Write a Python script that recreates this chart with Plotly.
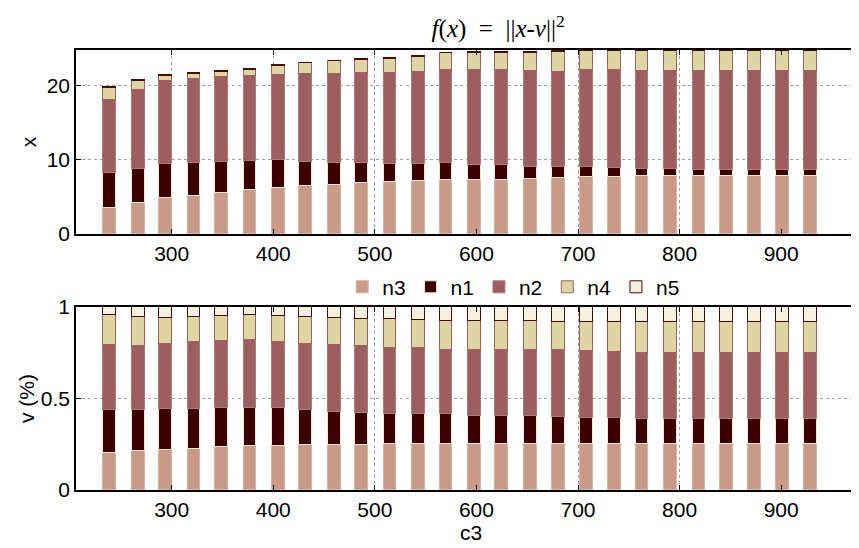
import plotly.graph_objects as go
from plotly.subplots import make_subplots

# x positions (c3)
c3 = [239, 267, 294, 322, 349, 377, 405, 432, 460, 487, 515, 543, 570,
      598, 625, 653, 681, 708, 736, 763, 791, 819, 846, 874, 901, 929]

# top panel: absolute values
top_n3 = [3.47, 4.13, 4.80, 5.06, 5.50, 5.86, 6.17, 6.40, 6.62, 6.80, 6.93, 7.07, 7.20,
          7.20, 7.29, 7.42, 7.50, 7.60, 7.73, 7.75, 7.80, 7.80, 7.80, 7.80, 7.80, 7.80]
top_n1 = [4.78, 4.64, 4.64, 4.49, 4.15, 3.98, 3.76, 3.26, 2.95, 2.73, 2.47, 2.33, 2.35,
          2.10, 2.01, 1.65, 1.49, 1.39, 1.13, 1.05, 0.90, 0.83, 0.83, 0.83, 0.83, 0.83]
top_n2 = [9.75, 10.53, 11.16, 11.35, 11.42, 11.46, 11.47, 11.84, 12.00, 12.07, 12.30, 12.43, 12.45,
          12.70, 12.70, 12.88, 12.81, 13.01, 13.14, 13.15, 13.20, 13.22, 13.22, 13.22, 13.22, 13.22]
top_n4 = [1.60, 1.25, 0.60, 0.60, 0.73, 0.80, 1.20, 1.45, 1.63, 1.80, 1.83, 1.93, 2.30,
          2.30, 2.35, 2.40, 2.65, 2.60, 2.60, 2.65, 2.70, 2.75, 2.75, 2.75, 2.75, 2.75]
top_n5 = [0.20, 0.15, 0.15, 0.15, 0.15, 0.10, 0.10, 0.10, 0.10, 0.15, 0.12, 0.14, 0.10,
          0.15, 0.15, 0.15, 0.15, 0.14, 0.14, 0.14, 0.14, 0.14, 0.14, 0.14, 0.14, 0.14]

# bottom panel: shares
bot_n3 = [0.204, 0.215, 0.218, 0.224, 0.235, 0.242, 0.242, 0.245, 0.245, 0.245, 0.253, 0.253, 0.249,
          0.249, 0.249, 0.249, 0.249, 0.249, 0.249, 0.249, 0.249, 0.249, 0.249, 0.249, 0.249, 0.249]
bot_n1 = [0.232, 0.221, 0.224, 0.218, 0.212, 0.205, 0.205, 0.191, 0.182, 0.175, 0.163, 0.163, 0.164,
          0.158, 0.158, 0.155, 0.151, 0.147, 0.144, 0.138, 0.138, 0.138, 0.138, 0.138, 0.138, 0.138]
bot_n2 = [0.354, 0.351, 0.358, 0.368, 0.366, 0.371, 0.363, 0.364, 0.363, 0.365, 0.362, 0.359, 0.354,
          0.357, 0.360, 0.363, 0.364, 0.364, 0.362, 0.364, 0.364, 0.364, 0.364, 0.364, 0.364, 0.364]
bot_n4 = [0.165, 0.158, 0.140, 0.135, 0.136, 0.137, 0.139, 0.145, 0.152, 0.151, 0.158, 0.155, 0.157,
          0.158, 0.155, 0.155, 0.154, 0.158, 0.161, 0.165, 0.165, 0.165, 0.165, 0.165, 0.165, 0.165]
bot_n5 = [0.045, 0.055, 0.060, 0.055, 0.051, 0.045, 0.051, 0.055, 0.058, 0.064, 0.064, 0.070, 0.076,
          0.078, 0.078, 0.078, 0.082, 0.082, 0.084, 0.084, 0.084, 0.084, 0.084, 0.084, 0.084, 0.084]

names = ["n3", "n1", "n2", "n4", "n5"]
fills = ["#C99B86", "#3C0000", "#9C5E5E", "#DED6A2", "#F4F1DE"]
edges = ["#D9B3A2", "#F0EAD0", "#B07A7A", "#A06060", "#4A0A0A"]
top_series = [top_n3, top_n1, top_n2, top_n4, top_n5]
bot_series = [bot_n3, bot_n1, bot_n2, bot_n4, bot_n5]

fig = make_subplots(rows=2, cols=1, vertical_spacing=0.166)
for i, nm in enumerate(names):
    fig.add_trace(go.Bar(x=c3, y=top_series[i], name=nm, width=12.5,
                         marker=dict(color=fills[i], line=dict(color=edges[i], width=1)),
                         legendgroup=nm, showlegend=True), row=1, col=1)
    fig.add_trace(go.Bar(x=c3, y=bot_series[i], name=nm, width=12.5,
                         marker=dict(color=fills[i], line=dict(color=edges[i], width=1)),
                         legendgroup=nm, showlegend=False), row=2, col=1)

font = dict(family="Liberation Sans, Arial, sans-serif", size=21, color="black")
xcommon = dict(range=[205.8, 976.6], tickvals=[300, 400, 500, 600, 700, 800, 900],
               showline=True, linecolor="black", linewidth=1.5, mirror="ticks",
               ticks="inside", ticklen=5, tickcolor="black",
               showgrid=True, gridcolor="#A0A0A0", griddash="dot", gridwidth=1,
               zeroline=False, tickfont=font)
fig.update_xaxes(**xcommon)
ycommon = dict(showline=True, linecolor="black", linewidth=1.5, mirror=False,
               ticks="inside", ticklen=5, tickcolor="black",
               showgrid=True, gridcolor="#A0A0A0", griddash="dot", gridwidth=1,
               zeroline=False, tickfont=font)
fig.update_yaxes(**ycommon)
fig.update_yaxes(row=1, col=1, range=[0, 24.74], tickvals=[0, 10, 20],
                 title=dict(text="x", font=font, standoff=4))
fig.update_yaxes(row=2, col=1, range=[0, 1], tickvals=[0, 0.5, 1], ticktext=["0", "0.5", "1"],
                 title=dict(text="v (%)", font=font, standoff=0))

fig.add_annotation(text="c3", xref="paper", yref="paper", x=0.505, y=-0.097,
                   xanchor="center", yanchor="middle", showarrow=False, font=font)

fig.update_layout(
    barmode="stack", bargap=0,
    width=851, height=540,
    margin=dict(l=68, r=0, t=42, b=58),
    plot_bgcolor="white", paper_bgcolor="white",
    font=font,
    title=dict(text="<i>f</i>(<i>x</i>)  =  ||<i>x</i>-<i>v</i>||<sup>2</sup>",
               xref="container", x=0.576, xanchor="center",
               yref="container", y=0.962, yanchor="middle",
               font=dict(family="Liberation Serif, serif", size=25, color="black")),
    legend=dict(orientation="h", x=0.34, xanchor="left", y=0.461, yanchor="middle",
                bgcolor="rgba(255,255,255,0)", font=font, traceorder="normal",
                itemwidth=30, tracegroupgap=0),
)
fig.update_layout(yaxis_domain=[0.5818, 1.0], yaxis2_domain=[0.0, 0.4159])

fig.write_html("out.html")
